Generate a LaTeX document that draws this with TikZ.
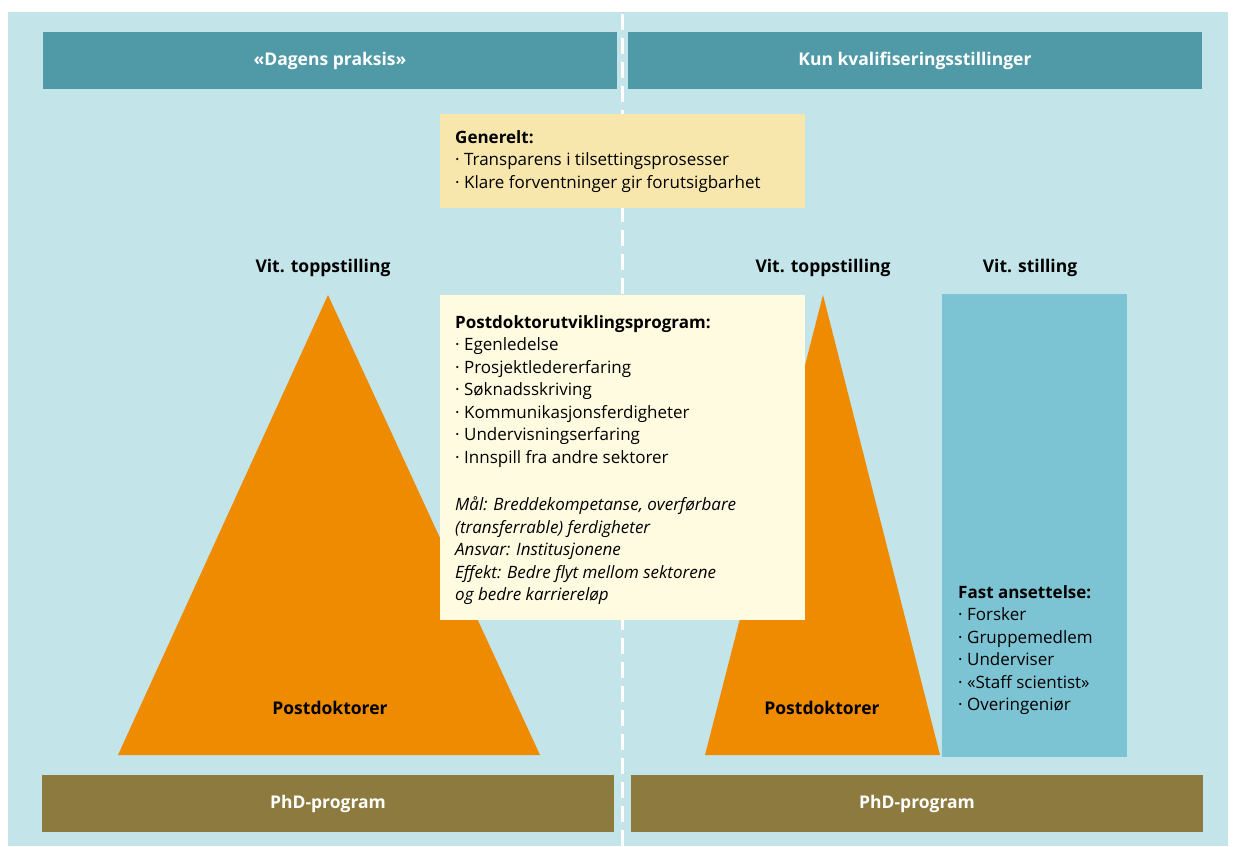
\documentclass[tikz,border=0pt]{standalone}
\usepackage{fontspec}
\setmainfont{Open Sans}
\definecolor{bgblue}{HTML}{C3E5EA}
\definecolor{headteal}{HTML}{4F9AA6}
\definecolor{phdbrown}{HTML}{8D7A3E}
\definecolor{pyrorange}{HTML}{EE8B00}
\definecolor{stillblue}{HTML}{7CC3D3}
\definecolor{genyellow}{HTML}{F8E7AD}
\definecolor{progcream}{HTML}{FFFBE0}
\tikzset{
  bar/.style={inner sep=0pt, minimum width=574pt, minimum height=57pt, text=white, font=\bfseries\fontsize{17.5}{20}\selectfont},
  headbar/.style={bar, fill=headteal},
  phdbar/.style={bar, fill=phdbrown, minimum width=572pt},
  lbl/.style={inner sep=0pt, font=\bfseries\fontsize{17.5}{20}\selectfont},
  txtblock/.style={inner sep=0pt, anchor=north west, align=left, font=\fontsize{17}{22.5}\selectfont},
  panel/.style={inner sep=0pt, draw=none}
}
\begin{document}
\begin{tikzpicture}[x=1pt,y=-1pt]
\fill[white] (0,0) rectangle (1233,846);
\useasboundingbox (0,0) rectangle (1233,846);
\fill[bgblue] (8,12) rectangle (1228,846);
% divider
\draw[white, line width=3pt, dash pattern=on 16pt off 8pt] (622,14) -- (622,846);
% header bars
\node[headbar] (hl) at (330,60.5) {«Dagens praksis»};
\node[headbar] (hr) at (915,60.5) {Kun kvalifiseringsstillinger};
% triangles
\fill[pyrorange] (328,295) -- (118,755) -- (540,755) -- cycle;
\fill[pyrorange] (823,295) -- (705,755) -- (940,755) -- cycle;
% blue box
\node[panel, fill=stillblue, minimum width=185pt, minimum height=463pt] (vs) at (1034.5,525.5) {};
% yellow box
\node[panel, fill=genyellow, minimum width=365pt, minimum height=94pt] (gen) at (622.5,161) {};
% cream box
\node[panel, fill=progcream, minimum width=365pt, minimum height=325pt] (prog) at (622.5,457.5) {};
% bottom bars
\node[phdbar] (pl) at (328,803.5) {PhD-program};
\node[phdbar] (pr) at (917,803.5) {PhD-program};
% labels
\node[lbl] (tl) at (323,268) {Vit. toppstilling};
\node[lbl] (tr) at (823,268) {Vit. toppstilling};
\node[lbl] (st) at (1030,268) {Vit. stilling};
\node[lbl] (pdl) at (330,708) {Postdoktorer};
\node[lbl] (pdr) at (822,708) {Postdoktorer};
% text blocks
\node[txtblock] (gentxt) at (455,130) {\textbf{Generelt:}\\
· Transparens i tilsettingsprosesser\\
· Klare forventninger gir forutsigbarhet};
\node[txtblock] (progtxt) at (455,315) {\textbf{Postdoktorutviklingsprogram:}\\
· Egenledelse\\
· Prosjektledererfaring\\
· Søknadsskriving\\
· Kommunikasjonsferdigheter\\
· Undervisningserfaring\\
· Innspill fra andre sektorer\\[25pt]
\textit{Mål: Breddekompetanse, overførbare}\\
\textit{(transferrable) ferdigheter}\\
\textit{Ansvar: Institusjonene}\\
\textit{Effekt: Bedre flyt mellom sektorene}\\
\textit{og bedre karriereløp}};
\node[txtblock] (fasttxt) at (958,585) {\textbf{Fast ansettelse:}\\
· Forsker\\
· Gruppemedlem\\
· Underviser\\
· «Staff scientist»\\
· Overingeniør};
\end{tikzpicture}
\end{document}
